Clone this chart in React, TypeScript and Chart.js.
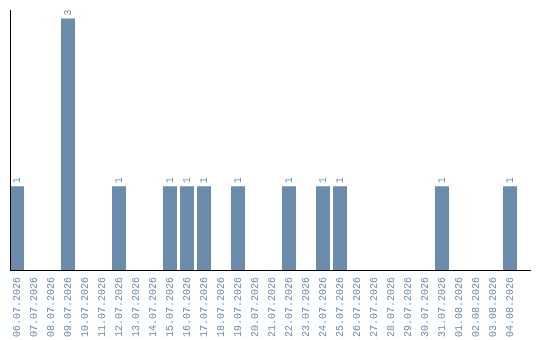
import React, { useEffect, useRef } from "react";
import { Chart, registerables } from "chart.js";

Chart.register(...registerables);

const dates = [
  "06.07.2026", "07.07.2026", "08.07.2026", "09.07.2026", "10.07.2026",
  "11.07.2026", "12.07.2026", "13.07.2026", "14.07.2026", "15.07.2026",
  "16.07.2026", "17.07.2026", "18.07.2026", "19.07.2026", "20.07.2026",
  "21.07.2026", "22.07.2026", "23.07.2026", "24.07.2026", "25.07.2026",
  "26.07.2026", "27.07.2026", "28.07.2026", "29.07.2026", "30.07.2026",
  "31.07.2026", "01.08.2026", "02.08.2026", "03.08.2026", "04.08.2026",
];

const counts = [
  1, 0, 0, 3, 0,
  0, 1, 0, 0, 1,
  1, 1, 0, 1, 0,
  0, 1, 0, 1, 1,
  0, 0, 0, 0, 0,
  1, 0, 0, 0, 1,
];

const BAR_COLOR = "#6b8cab";
const TEXT_COLOR = "#6f8bab";
const FONT = "Liberation Mono";

// Axis lines drawn by hand so they can run past the category band
const axisLines = {
  id: "axisLines",
  afterDatasetsDraw(chart: any) {
    const { ctx, chartArea } = chart;
    ctx.save();
    ctx.strokeStyle = "#000";
    ctx.lineWidth = 1;
    ctx.beginPath();
    ctx.moveTo(10.5, chartArea.top);
    ctx.lineTo(10.5, chartArea.bottom);
    ctx.moveTo(10, chartArea.bottom + 0.5);
    ctx.lineTo(531, chartArea.bottom + 0.5);
    ctx.stroke();
    ctx.restore();
  },
};

// Vertical value labels above each non-zero bar
const valueLabels = {
  id: "valueLabels",
  afterDatasetsDraw(chart: any) {
    const { ctx } = chart;
    const meta = chart.getDatasetMeta(0);
    ctx.save();
    ctx.fillStyle = TEXT_COLOR;
    ctx.font = `10px "${FONT}"`;
    ctx.textAlign = "left";
    ctx.textBaseline = "middle";
    meta.data.forEach((bar: any, i: number) => {
      const v = counts[i];
      if (!v) return;
      ctx.save();
      ctx.translate(bar.x, bar.y - 3);
      ctx.rotate(-Math.PI / 2);
      ctx.fillText(String(v), 0, 0);
      ctx.restore();
    });
    ctx.restore();
  },
};

export default function App() {
  const ref = useRef<HTMLCanvasElement | null>(null);

  useEffect(() => {
    if (!ref.current) return;
    const chart = new Chart(ref.current, {
      type: "bar",
      data: {
        labels: dates,
        datasets: [
          {
            data: counts,
            backgroundColor: BAR_COLOR,
            barPercentage: 14 / 17,
            categoryPercentage: 1,
          },
        ],
      },
      options: {
        animation: false,
        responsive: false,
        maintainAspectRatio: false,
        layout: { padding: { left: 8.5, right: 21.5, top: 10, bottom: 0 } },
        plugins: { legend: { display: false }, tooltip: { enabled: false } },
        scales: {
          x: {
            grid: { display: false, drawTicks: false },
            border: { display: false },
            afterFit: (scale: any) => {
              scale.height = 70;
            },
            ticks: {
              autoSkip: false,
              minRotation: 90,
              maxRotation: 90,
              padding: 7,
              color: TEXT_COLOR,
              font: { family: FONT, size: 10 },
            },
          },
          y: {
            display: false,
            min: 0,
            max: 3.1,
          },
        },
      },
      plugins: [axisLines, valueLabels],
    });
    return () => chart.destroy();
  }, []);

  return (
    <div style={{ position: "absolute", left: 0, top: 0, width: 540, height: 340, background: "#fff" }}>
      <canvas ref={ref} width={540} height={340} />
    </div>
  );
}
